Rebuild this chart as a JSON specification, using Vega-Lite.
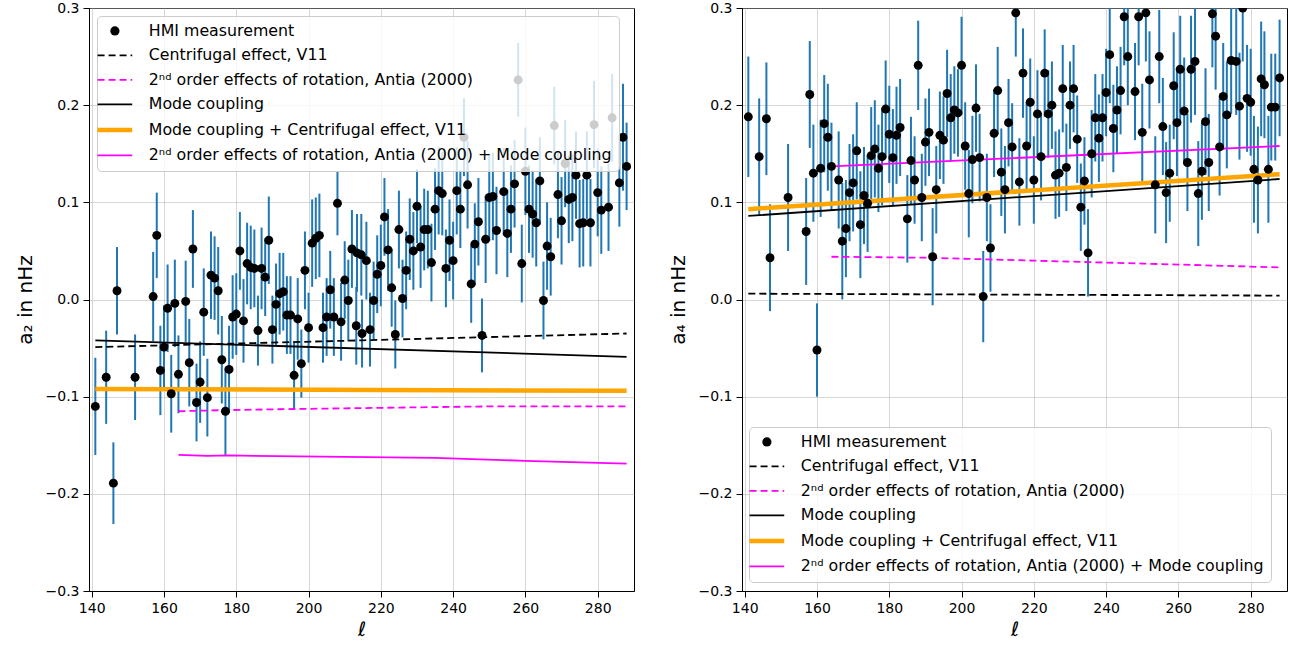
{
  "$schema": "https://vega.github.io/schema/vega-lite/v6.json",
  "padding": {"left": 14, "top": 0, "right": 0, "bottom": 0},
  "spacing": 32,
  "background": "white",
  "datasets": {
    "left": [{"l":141,"v":-0.110,"e":0.050},{"l":144,"v":-0.080,"e":0.048},{"l":146,"v":-0.189,"e":0.042},{"l":147,"v":0.009,"e":0.045},{"l":152,"v":-0.080,"e":0.044},{"l":157,"v":0.003,"e":0.046},{"l":158,"v":0.066,"e":0.044},{"l":159,"v":-0.073,"e":0.046},{"l":160,"v":-0.049,"e":0.043},{"l":161,"v":-0.009,"e":0.045},{"l":162,"v":-0.097,"e":0.040},{"l":163,"v":-0.004,"e":0.045},{"l":164,"v":-0.077,"e":0.040},{"l":166,"v":-0.002,"e":0.042},{"l":167,"v":-0.065,"e":0.045},{"l":168,"v":0.052,"e":0.040},{"l":169,"v":-0.106,"e":0.040},{"l":170,"v":-0.085,"e":0.042},{"l":171,"v":-0.013,"e":0.045},{"l":172,"v":-0.101,"e":0.040},{"l":173,"v":0.025,"e":0.045},{"l":174,"v":0.022,"e":0.043},{"l":175,"v":0.009,"e":0.045},{"l":176,"v":-0.062,"e":0.045},{"l":177,"v":-0.115,"e":0.045},{"l":178,"v":-0.072,"e":0.045},{"l":179,"v":-0.018,"e":0.043},{"l":180,"v":-0.015,"e":0.042},{"l":181,"v":0.050,"e":0.040},{"l":182,"v":-0.022,"e":0.043},{"l":183,"v":0.037,"e":0.042},{"l":184,"v":0.033,"e":0.043},{"l":185,"v":0.032,"e":0.040},{"l":186,"v":-0.032,"e":0.036},{"l":187,"v":0.032,"e":0.042},{"l":188,"v":0.023,"e":0.040},{"l":189,"v":0.061,"e":0.045},{"l":190,"v":-0.031,"e":0.035},{"l":191,"v":-0.005,"e":0.042},{"l":192,"v":0.006,"e":0.042},{"l":193,"v":0.008,"e":0.040},{"l":194,"v":-0.016,"e":0.040},{"l":195,"v":-0.016,"e":0.040},{"l":196,"v":-0.078,"e":0.035},{"l":197,"v":-0.020,"e":0.042},{"l":198,"v":-0.066,"e":0.035},{"l":199,"v":0.030,"e":0.040},{"l":200,"v":-0.029,"e":0.036},{"l":201,"v":0.058,"e":0.045},{"l":202,"v":0.063,"e":0.042},{"l":203,"v":0.066,"e":0.043},{"l":204,"v":-0.029,"e":0.036},{"l":205,"v":-0.018,"e":0.040},{"l":206,"v":0.010,"e":0.040},{"l":207,"v":-0.018,"e":0.040},{"l":208,"v":0.099,"e":0.033},{"l":209,"v":-0.023,"e":0.040},{"l":210,"v":0.020,"e":0.040},{"l":211,"v":-0.001,"e":0.042},{"l":212,"v":0.052,"e":0.040},{"l":213.2,"v":-0.027,"e":0.040},{"l":213.4,"v":0.048,"e":0.040},{"l":214.6,"v":0.046,"e":0.042},{"l":214.8,"v":-0.035,"e":0.035},{"l":216,"v":0.040,"e":0.040},{"l":217,"v":-0.031,"e":0.038},{"l":218,"v":-0.001,"e":0.040},{"l":219,"v":0.026,"e":0.040},{"l":220,"v":0.035,"e":0.042},{"l":221,"v":0.085,"e":0.040},{"l":222,"v":0.051,"e":0.042},{"l":223,"v":0.012,"e":0.040},{"l":224,"v":-0.036,"e":0.035},{"l":225,"v":0.072,"e":0.040},{"l":226,"v":0.001,"e":0.040},{"l":227,"v":0.030,"e":0.040},{"l":228,"v":0.062,"e":0.042},{"l":229,"v":0.050,"e":0.040},{"l":230,"v":0.096,"e":0.038},{"l":231,"v":0.054,"e":0.042},{"l":232,"v":0.072,"e":0.042},{"l":233,"v":0.072,"e":0.040},{"l":234,"v":0.038,"e":0.040},{"l":235,"v":0.093,"e":0.042},{"l":236,"v":0.112,"e":0.045},{"l":237,"v":0.109,"e":0.043},{"l":238,"v":0.032,"e":0.040},{"l":239,"v":0.061,"e":0.042},{"l":240,"v":0.040,"e":0.040},{"l":241,"v":0.112,"e":0.045},{"l":242,"v":0.093,"e":0.040},{"l":243,"v":0.167,"e":0.040},{"l":244,"v":0.118,"e":0.045},{"l":245,"v":0.016,"e":0.040},{"l":246,"v":0.057,"e":0.042},{"l":247,"v":0.080,"e":0.045},{"l":248,"v":-0.037,"e":0.038},{"l":249,"v":0.062,"e":0.045},{"l":250,"v":0.105,"e":0.045},{"l":251,"v":0.106,"e":0.045},{"l":252,"v":0.071,"e":0.045},{"l":254,"v":0.111,"e":0.045},{"l":255,"v":0.068,"e":0.045},{"l":256,"v":0.093,"e":0.045},{"l":257,"v":0.119,"e":0.045},{"l":258,"v":0.226,"e":0.038},{"l":259,"v":0.037,"e":0.040},{"l":260,"v":0.132,"e":0.045},{"l":261,"v":0.093,"e":0.045},{"l":262,"v":0.088,"e":0.045},{"l":263,"v":0.079,"e":0.045},{"l":264,"v":0.122,"e":0.045},{"l":265,"v":-0.001,"e":0.040},{"l":266,"v":0.055,"e":0.045},{"l":267,"v":0.044,"e":0.040},{"l":268,"v":0.179,"e":0.040},{"l":269,"v":0.108,"e":0.045},{"l":270,"v":0.081,"e":0.045},{"l":271,"v":0.140,"e":0.045},{"l":272,"v":0.103,"e":0.045},{"l":273,"v":0.105,"e":0.045},{"l":274,"v":0.128,"e":0.045},{"l":275,"v":0.078,"e":0.045},{"l":276,"v":0.079,"e":0.045},{"l":277,"v":0.128,"e":0.045},{"l":278,"v":0.079,"e":0.045},{"l":279,"v":0.180,"e":0.045},{"l":280,"v":0.110,"e":0.045},{"l":281,"v":0.092,"e":0.045},{"l":283,"v":0.095,"e":0.045},{"l":284,"v":0.187,"e":0.045},{"l":286,"v":0.120,"e":0.045},{"l":287,"v":0.167,"e":0.055},{"l":288,"v":0.137,"e":0.045}],
    "right": [{"l":141,"v":0.188,"e":0.062},{"l":144,"v":0.147,"e":0.060},{"l":146,"v":0.186,"e":0.058},{"l":147,"v":0.043,"e":0.055},{"l":152,"v":0.105,"e":0.055},{"l":157,"v":0.070,"e":0.055},{"l":158,"v":0.211,"e":0.055},{"l":159,"v":0.130,"e":0.050},{"l":160,"v":-0.052,"e":0.048},{"l":161,"v":0.135,"e":0.050},{"l":162,"v":0.181,"e":0.050},{"l":163,"v":0.167,"e":0.055},{"l":164,"v":0.137,"e":0.045},{"l":166,"v":0.123,"e":0.050},{"l":167,"v":0.060,"e":0.060},{"l":168,"v":0.073,"e":0.050},{"l":169,"v":0.110,"e":0.050},{"l":170,"v":0.120,"e":0.050},{"l":171,"v":0.153,"e":0.050},{"l":172,"v":0.077,"e":0.055},{"l":173,"v":0.107,"e":0.050},{"l":174,"v":0.099,"e":0.050},{"l":175,"v":0.148,"e":0.050},{"l":176,"v":0.155,"e":0.050},{"l":177,"v":0.135,"e":0.045},{"l":178,"v":0.147,"e":0.050},{"l":179,"v":0.196,"e":0.050},{"l":180,"v":0.170,"e":0.050},{"l":181,"v":0.146,"e":0.050},{"l":182,"v":0.169,"e":0.050},{"l":183,"v":0.177,"e":0.050},{"l":185,"v":0.083,"e":0.045},{"l":186,"v":0.143,"e":0.045},{"l":187,"v":0.123,"e":0.045},{"l":188,"v":0.241,"e":0.046},{"l":189,"v":0.105,"e":0.045},{"l":190,"v":0.162,"e":0.045},{"l":191,"v":0.172,"e":0.045},{"l":192,"v":0.044,"e":0.050},{"l":193,"v":0.113,"e":0.045},{"l":194,"v":0.169,"e":0.045},{"l":195,"v":0.164,"e":0.045},{"l":196,"v":0.212,"e":0.045},{"l":197,"v":0.187,"e":0.045},{"l":198,"v":0.195,"e":0.045},{"l":199,"v":0.192,"e":0.045},{"l":200,"v":0.241,"e":0.050},{"l":201,"v":0.158,"e":0.045},{"l":202,"v":0.109,"e":0.045},{"l":203,"v":0.144,"e":0.045},{"l":204,"v":0.197,"e":0.045},{"l":205,"v":0.146,"e":0.045},{"l":206,"v":0.003,"e":0.047},{"l":207,"v":0.105,"e":0.045},{"l":208,"v":0.053,"e":0.045},{"l":209,"v":0.171,"e":0.045},{"l":210,"v":0.215,"e":0.045},{"l":211,"v":0.131,"e":0.045},{"l":212,"v":0.113,"e":0.045},{"l":213,"v":0.182,"e":0.045},{"l":214,"v":0.157,"e":0.045},{"l":215,"v":0.295,"e":0.045},{"l":216,"v":0.121,"e":0.045},{"l":217,"v":0.233,"e":0.046},{"l":218,"v":0.158,"e":0.045},{"l":219,"v":0.203,"e":0.045},{"l":220,"v":0.123,"e":0.045},{"l":221,"v":0.191,"e":0.045},{"l":222,"v":0.147,"e":0.045},{"l":223,"v":0.233,"e":0.045},{"l":224,"v":0.191,"e":0.045},{"l":225,"v":0.200,"e":0.045},{"l":226,"v":0.128,"e":0.045},{"l":227,"v":0.130,"e":0.045},{"l":228,"v":0.217,"e":0.045},{"l":229,"v":0.136,"e":0.045},{"l":230,"v":0.200,"e":0.045},{"l":231,"v":0.217,"e":0.045},{"l":232,"v":0.165,"e":0.045},{"l":233,"v":0.095,"e":0.045},{"l":234,"v":0.122,"e":0.045},{"l":235,"v":0.048,"e":0.045},{"l":236,"v":0.150,"e":0.045},{"l":237,"v":0.187,"e":0.045},{"l":238,"v":0.166,"e":0.045},{"l":239,"v":0.187,"e":0.045},{"l":240,"v":0.213,"e":0.045},{"l":241,"v":0.252,"e":0.050},{"l":242,"v":0.176,"e":0.045},{"l":243,"v":0.195,"e":0.045},{"l":244,"v":0.215,"e":0.045},{"l":245,"v":0.291,"e":0.050},{"l":246,"v":0.250,"e":0.050},{"l":248,"v":0.214,"e":0.050},{"l":249,"v":0.291,"e":0.050},{"l":250,"v":0.172,"e":0.050},{"l":251,"v":0.295,"e":0.050},{"l":252,"v":0.226,"e":0.050},{"l":253.6,"v":0.118,"e":0.050},{"l":254.7,"v":0.250,"e":0.048},{"l":255.7,"v":0.178,"e":0.050},{"l":256.6,"v":0.110,"e":0.052},{"l":257.6,"v":0.130,"e":0.050},{"l":258.7,"v":0.220,"e":0.055},{"l":259.6,"v":0.182,"e":0.055},{"l":260.5,"v":0.237,"e":0.055},{"l":261.6,"v":0.194,"e":0.055},{"l":262.5,"v":0.141,"e":0.050},{"l":263.5,"v":0.237,"e":0.055},{"l":264.6,"v":0.245,"e":0.055},{"l":265.5,"v":0.109,"e":0.054},{"l":266.5,"v":0.132,"e":0.050},{"l":267.5,"v":0.183,"e":0.055},{"l":268.4,"v":0.141,"e":0.050},{"l":269.4,"v":0.294,"e":0.055},{"l":270.3,"v":0.271,"e":0.055},{"l":271.4,"v":0.157,"e":0.050},{"l":272.4,"v":0.209,"e":0.055},{"l":273.4,"v":0.190,"e":0.055},{"l":274.6,"v":0.246,"e":0.055},{"l":276.0,"v":0.245,"e":0.055},{"l":276.9,"v":0.199,"e":0.055},{"l":277.8,"v":0.300,"e":0.055},{"l":279.0,"v":0.207,"e":0.055},{"l":280.0,"v":0.203,"e":0.055},{"l":280.9,"v":0.134,"e":0.055},{"l":282.0,"v":0.123,"e":0.055},{"l":282.9,"v":0.227,"e":0.059},{"l":283.8,"v":0.221,"e":0.055},{"l":284.9,"v":0.134,"e":0.055},{"l":285.7,"v":0.198,"e":0.055},{"l":286.8,"v":0.198,"e":0.055},{"l":288.0,"v":0.228,"e":0.060}],
    "leftLines": [
      {"series":"Centrifugal effect, V11","l":141,"v":-0.049},{"series":"Centrifugal effect, V11","l":215,"v":-0.042},{"series":"Centrifugal effect, V11","l":288,"v":-0.035},
      {"series":"2ⁿᵈ order effects of rotation, Antia (2000)","l":164,"v":-0.115},{"series":"2ⁿᵈ order effects of rotation, Antia (2000)","l":175,"v":-0.114},{"series":"2ⁿᵈ order effects of rotation, Antia (2000)","l":190,"v":-0.113},{"series":"2ⁿᵈ order effects of rotation, Antia (2000)","l":210,"v":-0.112},{"series":"2ⁿᵈ order effects of rotation, Antia (2000)","l":230,"v":-0.111},{"series":"2ⁿᵈ order effects of rotation, Antia (2000)","l":250,"v":-0.110},{"series":"2ⁿᵈ order effects of rotation, Antia (2000)","l":288,"v":-0.110},
      {"series":"Mode coupling","l":141,"v":-0.042},{"series":"Mode coupling","l":288,"v":-0.059},
      {"series":"Mode coupling + Centrifugal effect, V11","l":141,"v":-0.092},{"series":"Mode coupling + Centrifugal effect, V11","l":288,"v":-0.094},
      {"series":"2ⁿᵈ order effects of rotation, Antia (2000) + Mode coupling","l":164,"v":-0.160},{"series":"2ⁿᵈ order effects of rotation, Antia (2000) + Mode coupling","l":172,"v":-0.161},{"series":"2ⁿᵈ order effects of rotation, Antia (2000) + Mode coupling","l":178,"v":-0.1605},{"series":"2ⁿᵈ order effects of rotation, Antia (2000) + Mode coupling","l":185,"v":-0.161},{"series":"2ⁿᵈ order effects of rotation, Antia (2000) + Mode coupling","l":210,"v":-0.162},{"series":"2ⁿᵈ order effects of rotation, Antia (2000) + Mode coupling","l":235,"v":-0.163},{"series":"2ⁿᵈ order effects of rotation, Antia (2000) + Mode coupling","l":260,"v":-0.166},{"series":"2ⁿᵈ order effects of rotation, Antia (2000) + Mode coupling","l":288,"v":-0.169}
    ],
    "rightLines": [
      {"series":"Centrifugal effect, V11","l":141,"v":0.006},{"series":"Centrifugal effect, V11","l":288,"v":0.004},
      {"series":"2ⁿᵈ order effects of rotation, Antia (2000)","l":164,"v":0.044},{"series":"2ⁿᵈ order effects of rotation, Antia (2000)","l":190,"v":0.043},{"series":"2ⁿᵈ order effects of rotation, Antia (2000)","l":220,"v":0.040},{"series":"2ⁿᵈ order effects of rotation, Antia (2000)","l":250,"v":0.037},{"series":"2ⁿᵈ order effects of rotation, Antia (2000)","l":288,"v":0.033},
      {"series":"Mode coupling","l":141,"v":0.086},{"series":"Mode coupling","l":288,"v":0.124},
      {"series":"Mode coupling + Centrifugal effect, V11","l":141,"v":0.093},{"series":"Mode coupling + Centrifugal effect, V11","l":288,"v":0.129},
      {"series":"2ⁿᵈ order effects of rotation, Antia (2000) + Mode coupling","l":164,"v":0.137},{"series":"2ⁿᵈ order effects of rotation, Antia (2000) + Mode coupling","l":288,"v":0.158}
    ]
  },
  "hconcat": [
    {
      "width": 545,
      "height": 583,
      "encoding": {
        "x": {"field": "l", "type": "quantitative", "scale": {"domain": [139.25, 290.05], "nice": false, "zero": false}, "axis": {"values": [140,160,180,200,220,240,260,280], "format": "d", "title": "ℓ"}},
        "y": {"field": "v", "type": "quantitative", "scale": {"domain": [-0.3, 0.3], "nice": false, "zero": false, "clamp": true}, "axis": {"values": [-0.3,-0.2,-0.1,0,0.1,0.2,0.3], "format": ".1f", "title": "a₂ in nHz"}}
      },
      "layer": [
        {"data": {"name": "left"}, "mark": {"type": "errorbar", "color": "#1f77b4", "thickness": 2, "clip": true}, "encoding": {"yError": {"field": "e"}}},
        {
          "data": {"name": "leftLines"},
          "encoding": {
            "color": {"field": "series", "type": "nominal",
              "scale": {"domain": ["HMI measurement","Centrifugal effect, V11","2ⁿᵈ order effects of rotation, Antia (2000)","Mode coupling","Mode coupling + Centrifugal effect, V11","2ⁿᵈ order effects of rotation, Antia (2000) + Mode coupling"], "range": ["black","black","#ff00ff","black","#ffa500","#ff00ff"]},
              "legend": {"title": null, "orient": "none", "legendX": 8, "legendY": 8, "zindex": 1, "fillColor": "rgba(255,255,255,0.8)", "strokeColor": "#cccccc", "cornerRadius": 4, "padding": 7, "labelFontSize": 15.8, "labelFont": "DejaVu Sans", "labelColor": "black", "labelLimit": 800, "rowPadding": 7.5, "labelOffset": 26, "symbolOffset": 3, "symbolType": "stroke", "symbolSize": 1200, "symbolStrokeWidth": 1.8,
                "encode": {"symbols": {"update": {
                  "shape": {"signal": "datum.value == 'HMI measurement' ? 'circle' : 'stroke'"},
                  "size": {"signal": "datum.value == 'HMI measurement' ? 85 : 1200"},
                  "fill": {"signal": "datum.value == 'HMI measurement' ? 'black' : 'transparent'"},
                  "strokeWidth": {"signal": "datum.value == 'HMI measurement' ? 0 : (datum.value == 'Mode coupling + Centrifugal effect, V11' ? 4.5 : 1.8)"},
                  "strokeDash": {"signal": "(datum.value == 'Centrifugal effect, V11' || datum.value == '2ⁿᵈ order effects of rotation, Antia (2000)') ? [7,4] : [1,0]"}
                }}}
              }
            }
          },
          "layer": [
            {"transform": [{"filter": {"field": "series", "oneOf": ["Centrifugal effect, V11", "2ⁿᵈ order effects of rotation, Antia (2000)"]}}], "mark": {"type": "line", "strokeDash": [7,4], "strokeWidth": 1.8, "clip": true}},
            {"transform": [{"filter": {"field": "series", "oneOf": ["Mode coupling", "2ⁿᵈ order effects of rotation, Antia (2000) + Mode coupling"]}}], "mark": {"type": "line", "strokeWidth": 1.8, "clip": true}},
            {"transform": [{"filter": {"field": "series", "equal": "Mode coupling + Centrifugal effect, V11"}}], "mark": {"type": "line", "strokeWidth": 4.5, "clip": true}}
          ]
        },
        {"data": {"name": "left"}, "mark": {"type": "point", "filled": true, "color": "black", "opacity": 1, "size": 80, "clip": true}}
      ]
    },
    {
      "width": 545,
      "height": 583,
      "encoding": {
        "x": {"field": "l", "type": "quantitative", "scale": {"domain": [139.25, 290.05], "nice": false, "zero": false}, "axis": {"values": [140,160,180,200,220,240,260,280], "format": "d", "title": "ℓ"}},
        "y": {"field": "v", "type": "quantitative", "scale": {"domain": [-0.3, 0.3], "nice": false, "zero": false, "clamp": true}, "axis": {"values": [-0.3,-0.2,-0.1,0,0.1,0.2,0.3], "format": ".1f", "title": "a₄ in nHz"}}
      },
      "layer": [
        {"data": {"name": "right"}, "mark": {"type": "errorbar", "color": "#1f77b4", "thickness": 2, "clip": true}, "encoding": {"yError": {"field": "e"}}},
        {
          "data": {"name": "rightLines"},
          "encoding": {
            "color": {"field": "series", "type": "nominal",
              "scale": {"domain": ["HMI measurement","Centrifugal effect, V11","2ⁿᵈ order effects of rotation, Antia (2000)","Mode coupling","Mode coupling + Centrifugal effect, V11","2ⁿᵈ order effects of rotation, Antia (2000) + Mode coupling"], "range": ["black","black","#ff00ff","black","#ffa500","#ff00ff"]},
              "legend": {"title": null, "orient": "none", "legendX": 7, "legendY": 419, "zindex": 1, "fillColor": "rgba(255,255,255,0.8)", "strokeColor": "#cccccc", "cornerRadius": 4, "padding": 7, "labelFontSize": 15.8, "labelFont": "DejaVu Sans", "labelColor": "black", "labelLimit": 800, "rowPadding": 7.5, "labelOffset": 26, "symbolOffset": 3, "symbolType": "stroke", "symbolSize": 1200, "symbolStrokeWidth": 1.8,
                "encode": {"symbols": {"update": {
                  "shape": {"signal": "datum.value == 'HMI measurement' ? 'circle' : 'stroke'"},
                  "size": {"signal": "datum.value == 'HMI measurement' ? 85 : 1200"},
                  "fill": {"signal": "datum.value == 'HMI measurement' ? 'black' : 'transparent'"},
                  "strokeWidth": {"signal": "datum.value == 'HMI measurement' ? 0 : (datum.value == 'Mode coupling + Centrifugal effect, V11' ? 4.5 : 1.8)"},
                  "strokeDash": {"signal": "(datum.value == 'Centrifugal effect, V11' || datum.value == '2ⁿᵈ order effects of rotation, Antia (2000)') ? [7,4] : [1,0]"}
                }}}
              }
            }
          },
          "layer": [
            {"transform": [{"filter": {"field": "series", "oneOf": ["Centrifugal effect, V11", "2ⁿᵈ order effects of rotation, Antia (2000)"]}}], "mark": {"type": "line", "strokeDash": [7,4], "strokeWidth": 1.8, "clip": true}},
            {"transform": [{"filter": {"field": "series", "oneOf": ["Mode coupling", "2ⁿᵈ order effects of rotation, Antia (2000) + Mode coupling"]}}], "mark": {"type": "line", "strokeWidth": 1.8, "clip": true}},
            {"transform": [{"filter": {"field": "series", "equal": "Mode coupling + Centrifugal effect, V11"}}], "mark": {"type": "line", "strokeWidth": 4.5, "clip": true}}
          ]
        },
        {"data": {"name": "right"}, "mark": {"type": "point", "filled": true, "color": "black", "opacity": 1, "size": 80, "clip": true}}
      ]
    }
  ],
  "resolve": {"scale": {"color": "independent", "x": "independent", "y": "independent"}, "legend": {"color": "independent"}},
  "config": {
    "font": "DejaVu Sans",
    "view": {"stroke": "black", "strokeWidth": 1},
    "axis": {"domainColor": "black", "domainWidth": 1, "tickColor": "black", "tickSize": 6, "tickWidth": 1, "labelColor": "black", "labelFontSize": 14, "labelPadding": 4, "labelFont": "DejaVu Sans", "titleFont": "DejaVu Sans", "titleColor": "black", "titleFontSize": 20, "titleFontWeight": "normal", "gridColor": "#b0b0b0", "gridOpacity": 0.5, "gridWidth": 1, "labelFlush": false},
    "axisX": {"titlePadding": 4, "titleFontStyle": "italic"},
    "axisY": {"titlePadding": 10}
  }
}
